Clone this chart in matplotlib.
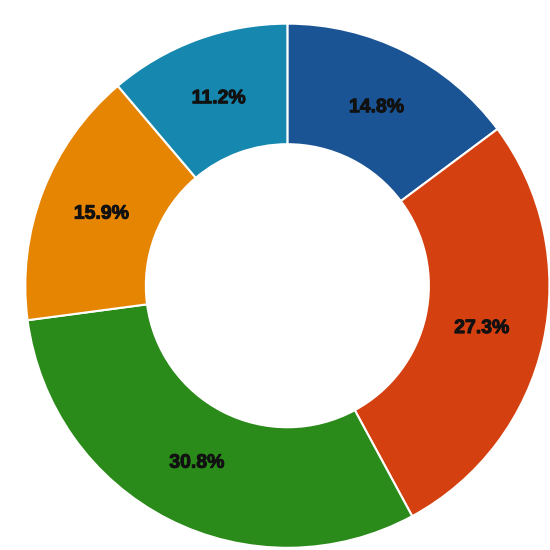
import matplotlib
matplotlib.use("Agg")
import matplotlib.pyplot as plt
import matplotlib.patheffects as pe

# shares, clockwise from 12 o'clock
shares = [14.8, 27.3, 30.8, 15.9, 11.2]
colors = ["#1a5494", "#d4400f", "#2a8a1a", "#e58502", "#1688b0"]

fig = plt.figure(figsize=(5.5, 5.5), dpi=100)
ax = fig.add_axes([0.046, 0.004, 0.953, 0.953])

wedges, texts, autotexts = ax.pie(
    shares,
    colors=colors,
    startangle=90,
    counterclock=False,
    radius=1.0,
    autopct="%.1f%%",
    pctdistance=0.76,
    wedgeprops=dict(width=0.46, edgecolor="white", linewidth=1.5),
)
for t in autotexts:
    t.set_family(["Liberation Sans", "DejaVu Sans"])
    t.set_fontsize(14)
    t.set_fontweight("bold")
    t.set_color("#111111")
    t.set_path_effects([pe.withStroke(linewidth=0.7, foreground="#111111")])

ax.set_xlim(-1, 1)
ax.set_ylim(-1, 1)
ax.set_aspect("equal")
ax.axis("off")

fig.savefig("out.png", dpi=100)
